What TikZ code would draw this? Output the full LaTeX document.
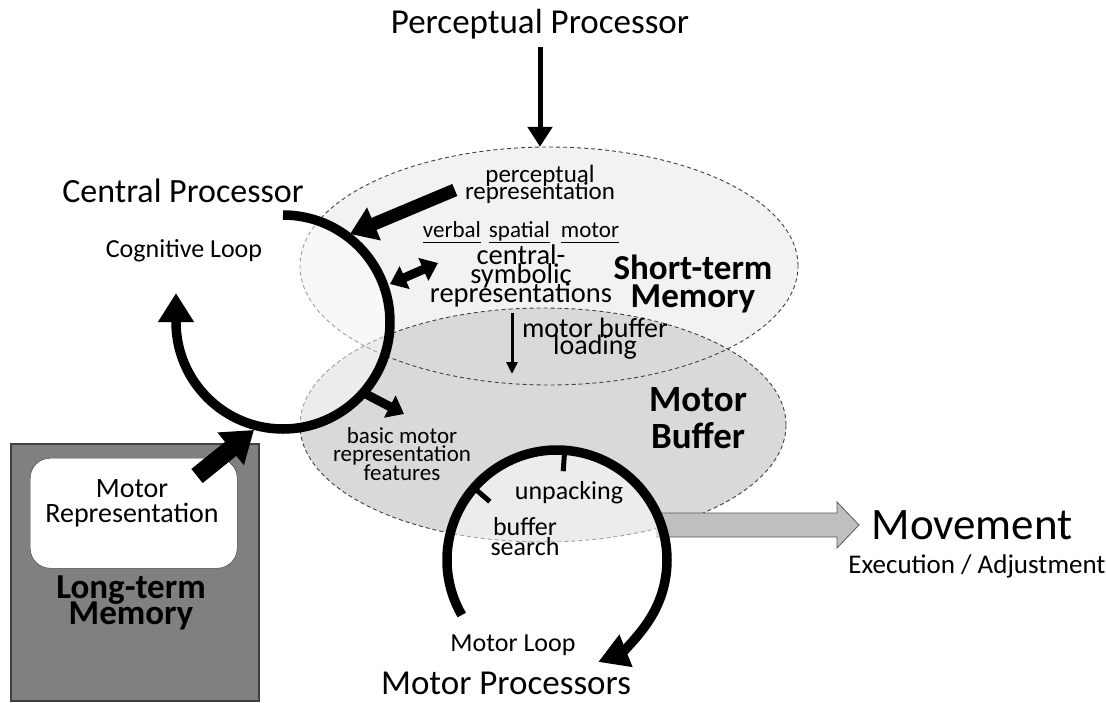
\documentclass[tikz,border=0pt]{standalone}
\usepackage{fontspec}
\setmainfont{Carlito}
\usepackage{tikz}
\usetikzlibrary{positioning,arrows.meta,shapes.geometric}

\newcommand{\fsz}[2]{\fontsize{#1}{#2}\selectfont\lineskiplimit=-100pt}
\newcommand{\ulword}[1]{\underline{#1\vphantom{p}}}

\begin{document}
\begin{tikzpicture}[x=1pt, y=-1pt,
  memory/.style={ellipse, inner sep=0pt, fill=#1},
  border/.style={draw=black!75, line width=0.9pt, dash pattern=on 4pt off 3pt},
  loopline/.style={line width=9.5pt},
  cue/.style={line width=5pt},
  txt/.style={inner sep=0pt, align=center},
  fat/.style={line width=#1}
]
  \useasboundingbox[fill=white] (0,0) rectangle (1106,702);

  % Long-term memory (bottom left)
  \node[draw=black!75, line width=1.5pt, fill=black!50, anchor=north west, minimum width=248pt, minimum height=257pt, inner sep=0pt] (ltm) at (10,443) {};
  \node[draw=black!80, fill=white, rounded corners=20pt, anchor=north west, minimum width=207pt, minimum height=110pt, inner sep=0pt] (motrepbox) at (30,458) {};

  % Memory stores
  \node[memory=black!5, minimum width=498pt, minimum height=238pt] (stm) at (549,266) {};
  \node[memory=black!15, minimum width=486pt, minimum height=234pt] (mb) at (543,425) {};
  \draw[border] (mb.center) ellipse[x radius=243pt, y radius=117pt];
  \draw[border] (stm.center) ellipse[x radius=249pt, y radius=119pt];

  % Movement output (behind the motor loop)
  \draw[draw=black!65, fill=black!25, line width=0.8pt] (656,513) -- (837,513) -- (837,502) -- (859,525) -- (837,548) -- (837,537) -- (656,537);

  % Loops
  \coordinate (cog) at (283,322);
  \coordinate (mot) at (557,560);
  \fill[white, opacity=0.5] (cog) circle[radius=107pt];
  \fill[white, opacity=0.5] (mot) circle[radius=110pt];
  \draw[loopline, -{Triangle[length=29pt,width=34pt]}] ([shift={(-90:107)}]cog) arc[start angle=-90, end angle=180, radius=107] -- ++(0,-29);
  \draw[loopline, -{Triangle[length=30pt,width=33pt]}] ([shift={(150:110)}]mot) arc[start angle=150, end angle=428, radius=110];
  \draw[cue] ([shift={(-86:110)}]mot) -- ([shift={(-86:89)}]mot);
  \draw[cue] ([shift={(-139:110)}]mot) -- ([shift={(-139:89)}]mot);

  % Labels
  \node[txt, font=\fsz{35}{40}] (pp) at (540,24) {Perceptual Processor};
  \node[txt, font=\fsz{34}{40}] (cp) at (183,191) {Central Processor};
  \node[txt, font=\fsz{26}{30}] (coglbl) at (184,251) {Cognitive Loop};
  \node[txt, font=\fsz{25}{17}] (percrep) at (540,184) {perceptual\\representation};
  \node[txt, font=\fsz{23}{28}] (codes) at (521,232) {\ulword{verbal}\hspace{8pt}\ulword{spatial}\hspace{11pt}\ulword{motor}};
  \node[txt, font=\fsz{28.5}{19}] (csr) at (521,276) {central-\\symbolic\\representations};
  \node[txt, font=\bfseries\fsz{35}{28}] (stmlbl) at (693,284) {Short-term\\Memory};
  \node[txt, font=\fsz{28}{17}] (mbload) at (595,339) {motor buffer\\loading};
  \node[txt, font=\bfseries\fsz{37}{37}] (mblbl) at (698,418) {Motor\\Buffer};
  \node[txt, font=\fsz{23}{18.5}] (bmrf) at (402,454) {basic motor\\representation\\features};
  \node[txt, font=\fsz{26}{30}] (unpack) at (569,493) {unpacking};
  \node[txt, font=\fsz{26}{20}] (bsearch) at (525,537) {buffer\\search};
  \node[txt, font=\fsz{26}{30}] (motlbl) at (513,645) {Motor Loop};
  \node[txt, font=\fsz{35}{40}] (mp) at (506,683) {Motor Processors};
  \node[txt, font=\fsz{45}{50}] (mvmt) at (972,525) {Movement};
  \node[txt, font=\fsz{27}{30}] (exec) at (977,566) {Execution / Adjustment};
  \node[txt, font=\fsz{28}{25}] (motrep) at (132,503) {Motor\\Representation};
  \node[txt, font=\bfseries\fsz{35}{26}] (ltmlbl) at (131,603) {Long-term\\Memory};

  % Flow arrows
  \coordinate (cogin) at (350,234);
  \coordinate (cogcs) at (390,284);
  \coordinate (csin) at (438,263);
  \coordinate (cogout) at (362,392);
  \coordinate (bmin) at (404,414);
  \coordinate (ltmout) at (197,476);
  \coordinate (cogltm) at (254,430);
  \coordinate (ldtop) at (512,313);
  \coordinate (ldbot) at (512,374);
  \draw[fat=5pt, -{Triangle[length=20pt,width=24pt]}, shorten <=8pt] (pp.south) -- (pp.south |- stm.north);
  \draw[fat=13pt, -{Triangle[length=26pt,width=34pt]}] ([shift={(-10,6)}]percrep.west) -- (cogin);
  \draw[fat=9pt, {Triangle[length=16pt,width=24pt]}-{Triangle[length=16pt,width=24pt]}] (cogcs) -- (csin);
  \draw[fat=9pt, -{Triangle[length=16pt,width=24pt]}] (cogout) -- (bmin);
  \draw[fat=18pt, -{Triangle[length=30pt,width=40pt]}] (ltmout) -- (cogltm);
  \draw[fat=3pt, -{Triangle[length=12pt,width=11pt]}] (ldtop) -- (ldbot);

\end{tikzpicture}
\end{document}
